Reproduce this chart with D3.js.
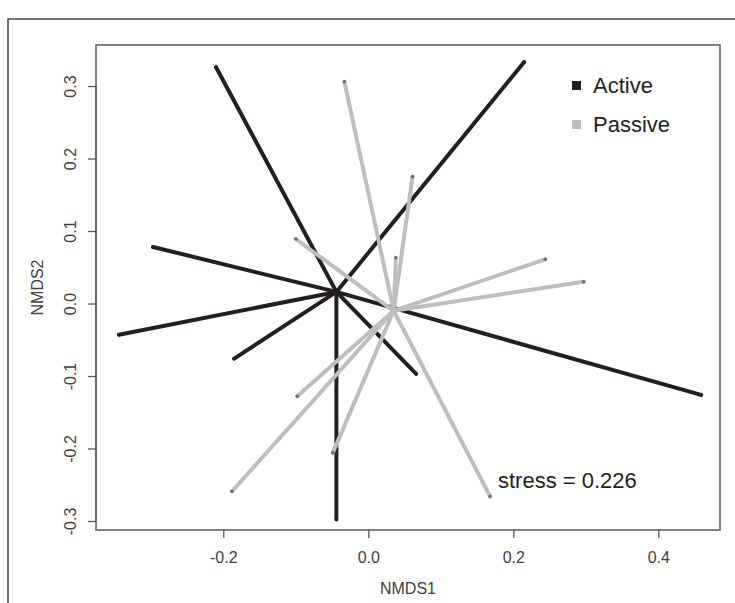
<!DOCTYPE html>
<html>
<head>
<meta charset="utf-8">
<script src="https://cdn.jsdelivr.net/npm/d3@7"></script>
<style>
  body { margin: 0; background: #fff; }
  text { font-family: "Liberation Sans", Arial, sans-serif; }
</style>
</head>
<body>
<svg id="chart" width="735" height="603"></svg>
<script>
// group centroids (NMDS1, NMDS2)
var groups = ["Active", "Passive"];
var centroidX = [-0.044, 0.035];
var centroidY = [0.016, -0.010];

// site scores, Active
var activeX = [-0.210, 0.215, -0.297, -0.344, -0.185, 0.066, -0.044, 0.459];
var activeY = [0.326, 0.333, 0.078, -0.043, -0.076, -0.097, -0.298, -0.126];

// site scores, Passive
var passiveX = [-0.033, 0.061, 0.038, -0.100, 0.244, 0.297, -0.098, -0.049, -0.188, 0.168];
var passiveY = [0.306, 0.175, 0.063, 0.089, 0.061, 0.030, -0.128, -0.206, -0.259, -0.266];

var xTicks = [-0.2, 0.0, 0.2, 0.4];
var yTicks = [-0.3, -0.2, -0.1, 0.0, 0.1, 0.2, 0.3];
var stressValue = 0.226;

var colors = ["#231f20", "#bcbec0"];

//	svg selection and sizing
var svg = d3.select("#chart");
var box = {left: 96, right: 720, top: 45, bottom: 530};

var x = d3.scaleLinear().domain([-0.3756, 0.4851]).range([box.left, box.right]);
var y = d3.scaleLinear().domain([-0.3124, 0.3566]).range([box.bottom, box.top]);

// R style labels: plain hyphen, one decimal
function fmt(d) {
    return d.toFixed(1);
}

// outer figure frame
svg.append("rect")
        .attr("x", 8).attr("y", 19)
        .attr("width", 760).attr("height", 620)
        .attr("fill", "none").attr("stroke", "#2b2b2b").attr("stroke-width", 1.3);

// build spider segments
var segs = [];
activeX.forEach(function (v, i) {
    segs.push({g: 0, x: v, y: activeY[i]});
});
passiveX.forEach(function (v, i) {
    segs.push({g: 1, x: v, y: passiveY[i]});
});

var spider = svg.append("g");
spider.selectAll("line")
        .data(segs)
        .enter().append("line")
        .attr("x1", function (d) { return x(centroidX[d.g]); })
        .attr("y1", function (d) { return y(centroidY[d.g]); })
        .attr("x2", function (d) { return x(d.x); })
        .attr("y2", function (d) { return y(d.y); })
        .attr("stroke", function (d) { return colors[d.g]; })
        .attr("stroke-width", 4)
        .attr("stroke-linecap", "round");

spider.selectAll("circle")
        .data(segs)
        .enter().append("circle")
        .attr("cx", function (d) { return x(d.x); })
        .attr("cy", function (d) { return y(d.y); })
        .attr("r", 1.8)
        .attr("fill", function (d) { return d.g ? "#6d6e71" : colors[0]; });

// plot box
svg.append("rect")
        .attr("x", box.left).attr("y", box.top)
        .attr("width", box.right - box.left).attr("height", box.bottom - box.top)
        .attr("fill", "none").attr("stroke", "#58595b").attr("stroke-width", 1.5);

// axes
var xAxis = svg.append("g")
        .attr("transform", "translate(0," + box.bottom + ")")
        .call(d3.axisBottom(x).tickValues(xTicks).tickFormat(fmt).tickSize(8).tickPadding(14));
xAxis.select(".domain").remove();

var yAxis = svg.append("g")
        .attr("transform", "translate(" + box.left + ",0)")
        .call(d3.axisLeft(y).tickValues(yTicks).tickFormat(fmt).tickSize(8));
yAxis.select(".domain")
        .attr("d", "M0," + y(-0.3) + "V" + y(0.3));
yAxis.selectAll(".tick text")
        .attr("transform", "rotate(-90)")
        .attr("x", 0).attr("y", -20)
        .attr("dy", 0)
        .attr("text-anchor", "middle");

svg.selectAll(".tick line").attr("stroke", "#58595b").attr("stroke-width", 1.3);
svg.selectAll(".domain").attr("stroke", "#58595b").attr("stroke-width", 1.3);
svg.selectAll(".tick text")
        .attr("font-family", "'Liberation Sans', Arial, sans-serif")
        .attr("font-size", 16)
        .attr("fill", "#414042");

// axis titles
svg.append("text")
        .attr("x", (box.left + box.right) / 2).attr("y", 594)
        .attr("text-anchor", "middle").attr("font-size", 16).attr("fill", "#414042")
        .text("NMDS1");
svg.append("text")
        .attr("transform", "translate(43," + ((box.top + box.bottom) / 2) + ") rotate(-90)")
        .attr("text-anchor", "middle").attr("font-size", 16).attr("fill", "#414042")
        .text("NMDS2");

// legend
var legend = svg.append("g").selectAll("g")
        .data(groups)
        .enter().append("g")
        .attr("transform", function (d, i) { return "translate(572," + (81 + i * 39) + ")"; });
legend.append("rect")
        .attr("width", 9).attr("height", 9)
        .attr("fill", function (d, i) { return colors[i]; });
legend.append("text")
        .attr("x", 21).attr("y", 11.5)
        .attr("font-size", 22).attr("fill", "#231f20")
        .text(function (d) { return d; });

// stress annotation
svg.append("text")
        .attr("x", 498).attr("y", 488)
        .attr("font-size", 22).attr("fill", "#231f20")
        .text("stress = " + stressValue);
</script>
</body>
</html>
